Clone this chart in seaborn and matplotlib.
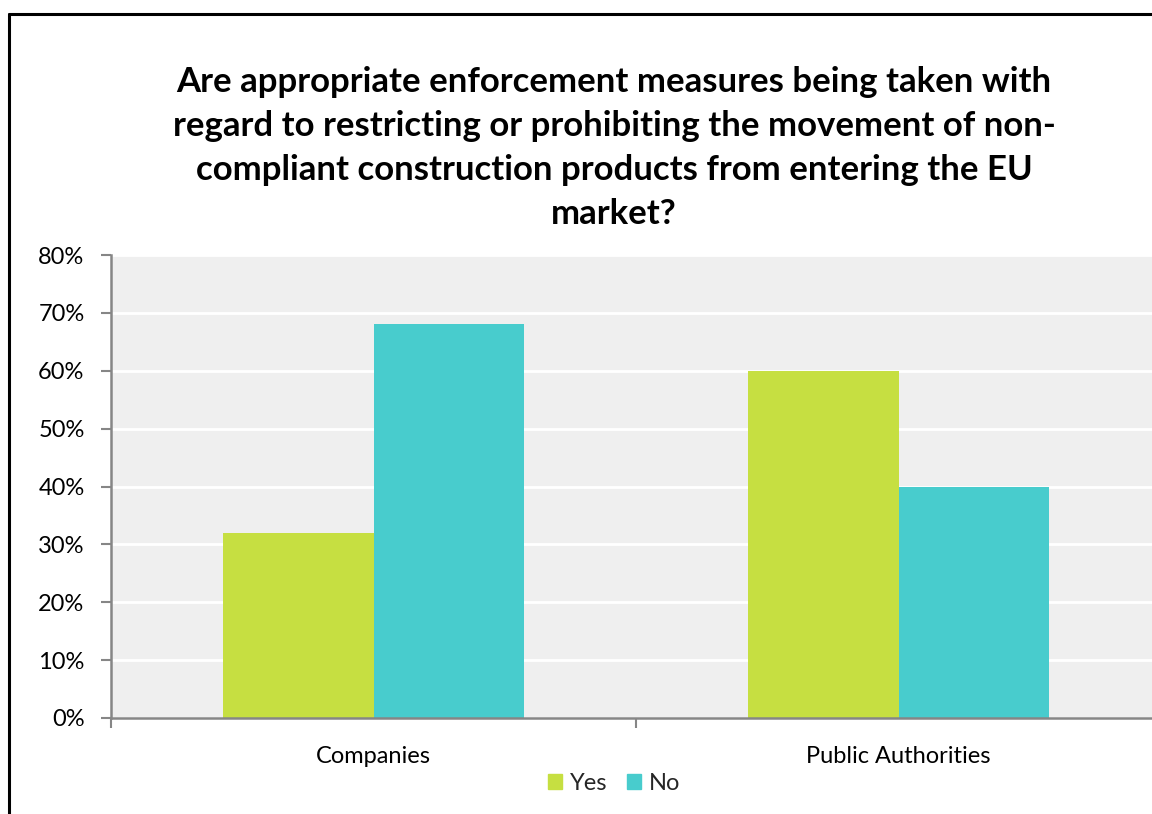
import matplotlib
matplotlib.use("Agg")
import matplotlib.pyplot as plt
from matplotlib.lines import Line2D
from matplotlib.ticker import FuncFormatter
import seaborn as sns
import pandas as pd

categories = ["Companies", "Public Authorities"]
series = ["Yes", "No"]
yes_values = [0.32, 0.60]
no_values = [0.68, 0.40]
title = ("Are appropriate enforcement measures being taken with\n"
         "regard to restricting or prohibiting the movement of non-\n"
         "compliant construction products from entering the EU\n"
         "market?")

df = pd.DataFrame({
    "category": categories * 2,
    "answer": ["Yes"] * len(categories) + ["No"] * len(categories),
    "value": yes_values + no_values,
})

sns.set_theme(style="white")
plt.rcParams['font.family'] = ['Lato', 'DejaVu Sans']

W, H = 1152, 814
fig = plt.figure(figsize=(W / 100, H / 100), dpi=100)
ax = fig.add_axes([111 / W, 1 - 718 / H, (1161 - 111) / W, (718 - 255) / H])

palette = {"Yes": "#c6df41", "No": "#48cccd"}
sns.barplot(data=df, x="category", y="value", hue="answer", hue_order=series,
            order=categories, palette=palette, width=0.573, saturation=1,
            ax=ax, legend=True, zorder=2, linewidth=0)

ax.set_facecolor("#efefef")
ax.set_ylim(0, 0.8)
ax.set_xlim(-0.5, 1.5)
ax.set_yticks([i / 10 for i in range(9)])
ax.yaxis.set_major_formatter(FuncFormatter(lambda v, p: f"{v*100:.0f}%"))
ax.grid(axis="y", color="white", linewidth=2, zorder=0)
ax.set_axisbelow(True)
ax.set_xlabel("")
ax.set_ylabel("")

for s in ["top", "right"]:
    ax.spines[s].set_visible(False)
for s in ["left", "bottom"]:
    ax.spines[s].set_color("#868686")
    ax.spines[s].set_linewidth(1.8)

ax.tick_params(axis="y", which="major", length=7, width=1.5, color="#868686",
               labelsize=17, pad=12, left=True)
ax.tick_params(axis="x", which="major", length=0, labelsize=17, pad=20)
ax.set_xticks([-0.5, 0.5, 1.5], minor=True)
ax.tick_params(axis="x", which="minor", length=7, width=1.5, color="#868686",
               bottom=True)
for lbl in ax.get_xticklabels() + ax.get_yticklabels():
    lbl.set_color("#000000")

leg = ax.get_legend()
if leg is not None:
    leg.remove()
handles = [plt.Rectangle((0, 0), 1, 1, color=palette[s]) for s in series]
fig.legend(handles, series, loc="center", bbox_to_anchor=(614 / W, 1 - 783 / H),
           ncol=2, frameon=False, fontsize=17, handlelength=0.6, handleheight=0.6,
           handletextpad=0.35, columnspacing=0.8)

fig.text(614 / W, 1 - 148 / H, title, ha="center", va="center",
         fontsize=25, fontweight="bold", linespacing=1.46, color="#000000")

fig.add_artist(Line2D([9 / W, 9 / W], [0, 1 - 14 / H], color="black", linewidth=2.2,
                      transform=fig.transFigure))
fig.add_artist(Line2D([9 / W, 1.0], [1 - 14 / H, 1 - 14 / H], color="black",
                      linewidth=2.2, transform=fig.transFigure))

fig.savefig("out.png", dpi=100, facecolor="white")
